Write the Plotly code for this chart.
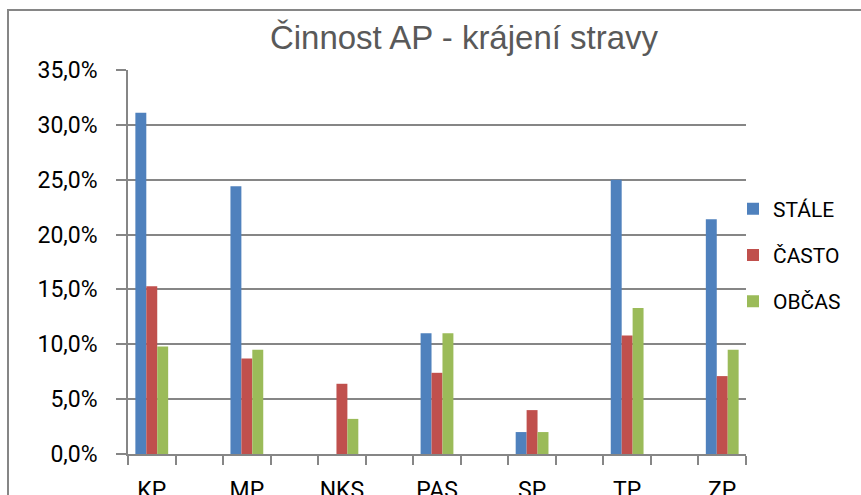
import plotly.graph_objects as go

categories = ["KP", "MP", "NKS", "PAS", "SP", "TP", "ZP"]
stale = [0.311, 0.244, 0.0, 0.110, 0.020, 0.250, 0.214]
casto = [0.153, 0.087, 0.064, 0.074, 0.040, 0.108, 0.071]
obcas = [0.098, 0.095, 0.032, 0.110, 0.020, 0.133, 0.095]
series_names = ["STÁLE", "ČASTO", "OBČAS"]
colors = ["#4F81BD", "#C0504D", "#9BBB59"]

# categories sit on every other slot (blank slots in between)
xpos = [2 * i for i in range(len(categories))]

fig = go.Figure()
for i, (name, vals, col) in enumerate(zip(series_names, [stale, casto, obcas], colors)):
    fig.add_trace(go.Bar(x=xpos, y=vals, name=name, marker_color=col,
                         marker_line_width=0, legendgroup=f"g{i}"))

grid = "#868686"
tickfont = dict(family="Roboto", size=23, color="#000000")
L, R, T, B = 128, 115, 70, 41
W, H = 861, 495
pw, ph = W - L - R, H - T - B

fig.update_layout(
    width=W, height=H,
    margin=dict(l=L, r=R, t=T, b=B, autoexpand=False),
    paper_bgcolor="white", plot_bgcolor="white",
    separators=", ",
    barmode="group", bargap=0.655, bargroupgap=0,
    title=dict(text="Činnost AP - krájení stravy", x=(464) / W, xanchor="center",
               y=1 - 37 / H, yanchor="middle",
               font=dict(family="Liberation Sans", size=33, color="#595959")),
    showlegend=True,
    legend=dict(x=(733 - L) / pw, xanchor="left", y=(454 - 255) / ph, yanchor="middle",
                font=dict(family="Roboto", size=21, color="#000000"),
                tracegroupgap=16, itemwidth=30, bgcolor="rgba(0,0,0,0)"),
    xaxis=dict(range=[-0.5, 12.5], tickmode="array", tickvals=xpos, ticktext=categories,
               ticks="", showgrid=False, zeroline=False, showline=True, automargin=False,
               linecolor=grid, linewidth=1.5, tickfont=tickfont, ticklabelstandoff=15,
               minor=dict(ticks="outside", tick0=-0.5, dtick=1, ticklen=9,
                          tickcolor=grid, tickwidth=1.5, showgrid=False)),
    yaxis=dict(range=[0, 0.35], dtick=0.05, tickformat=".1%", ticks="outside",
               automargin=False,
               ticklen=10, tickcolor=grid, tickwidth=1.5, showgrid=True,
               gridcolor=grid, gridwidth=1.5, zeroline=False, showline=True,
               linecolor=grid, linewidth=1.5, tickfont=tickfont, ticklabelstandoff=14),
    shapes=[dict(type="rect", xref="paper", yref="paper",
                 x0=(8 - L) / pw, x1=(W + 20 - L) / pw,
                 y0=-(B + 20) / ph, y1=1 + (T - 10) / ph,
                 line=dict(color=grid, width=2), fillcolor="rgba(0,0,0,0)", layer="below")],
)

fig.write_html("out.html", config={"displayModeBar": False},
               post_script="document.body.style.margin='0';document.body.style.overflow='hidden';")
